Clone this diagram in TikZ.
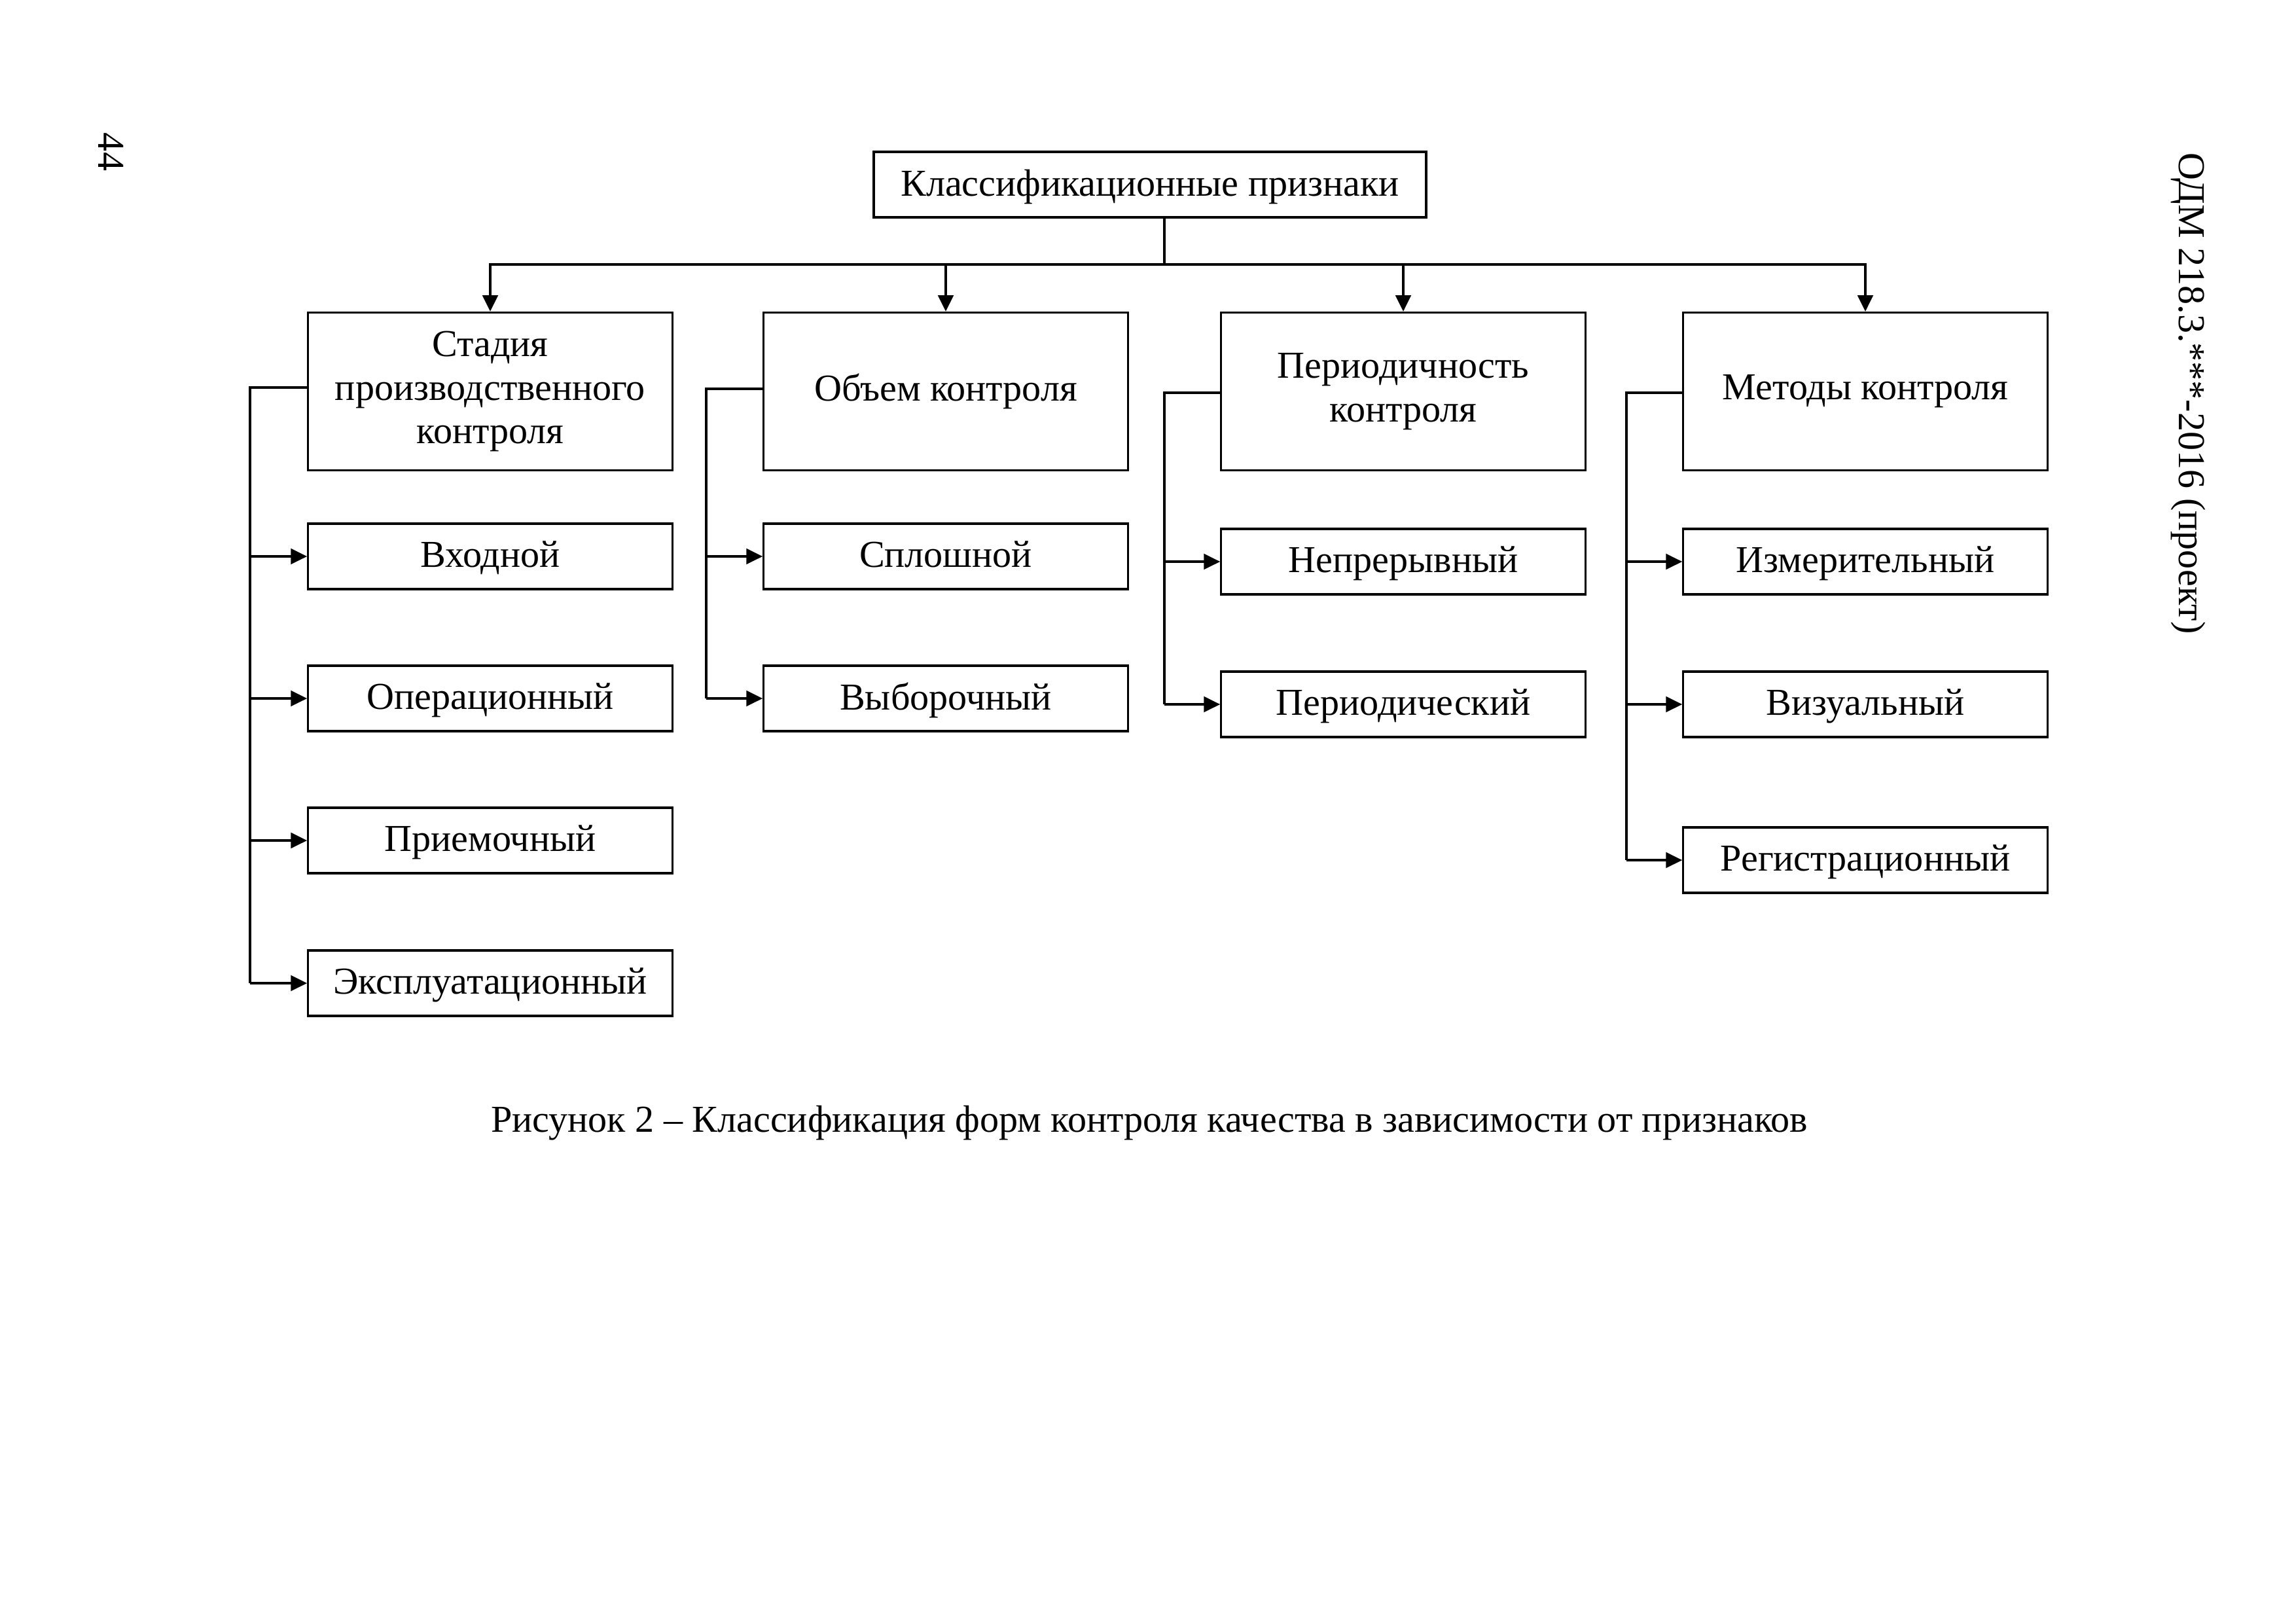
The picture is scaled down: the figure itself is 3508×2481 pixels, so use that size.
\documentclass[tikz,border=0pt]{standalone}
\usepackage{fontspec}
\setmainfont{Liberation Serif}
\usetikzlibrary{arrows.meta}
\begin{document}
\begin{tikzpicture}[x=0.08466mm,y=-0.08466mm,
  every node/.style={font=\fontsize{14pt}{16.1pt}\selectfont},
  bigbox/.style={draw,line width=0.8pt,inner sep=0pt,minimum width=47.1mm,minimum height=20.4mm,align=center},
  smallbox/.style={draw,line width=0.8pt,inner sep=0pt,minimum width=47.1mm,minimum height=8.47mm,text depth=0.5mm},
  topbox/.style={draw,line width=0.8pt,inner sep=0pt,minimum width=71.45mm,minimum height=8.47mm,text depth=0.5mm},
  conn/.style={line width=0.8pt},
  arr/.style={line width=0.8pt,-{Triangle[length=2.1mm,width=2mm]}}]
\useasboundingbox (0,0) rectangle (3508,2481);
% page furniture
\node[rotate=-90] (pg) at (170,232) {44};
\node[rotate=-90] (hdr) at (3343,601) {ОДМ 218.3.***-2016 (проект)};
% top
\node[topbox] (top) at (1757,282) {Классификационные признаки};
% level 1
\node[bigbox] (b1) at (749,598) {Стадия\\производственного\\контроля};
\node[bigbox] (b2) at (1445,598) {Объем контроля};
\node[bigbox] (b3) at (2144,598) {Периодичность\\контроля};
\node[bigbox] (b4) at (2850,598) {Методы контроля};
% level 2
\node[smallbox] (s11) at (749,850) {Входной};
\node[smallbox] (s12) at (749,1067) {Операционный};
\node[smallbox] (s13) at (749,1284) {Приемочный};
\node[smallbox] (s14) at (749,1502) {Эксплуатационный};
\node[smallbox] (s21) at (1445,850) {Сплошной};
\node[smallbox] (s22) at (1445,1067) {Выборочный};
\node[smallbox] (s31) at (2144,858) {Непрерывный};
\node[smallbox] (s32) at (2144,1076) {Периодический};
\node[smallbox] (s41) at (2850,858) {Измерительный};
\node[smallbox] (s42) at (2850,1076) {Визуальный};
\node[smallbox] (s43) at (2850,1314) {Регистрационный};
% caption
\node (cap) at (1756,1716) {Рисунок 2 – Классификация форм контроля качества в зависимости от признаков};
% top connectors
\coordinate (j) at (1779,404);
\draw[conn] (top.south -| j) -- (j);
\draw[arr] (j) -| (b1.north);
\draw[arr] (j) -| (b2.north);
\draw[arr] (j) -| (b3.north);
\draw[arr] (j) -| (b4.north);
% side connectors
\coordinate (v1) at (382,592);
\coordinate (v2) at (1079,594);
\coordinate (v3) at (1779,600);
\coordinate (v4) at (2485,600);
\draw[conn] (b1.west |- v1) -- (v1) -- (v1 |- s14.west);
\draw[conn] (b2.west |- v2) -- (v2) -- (v2 |- s22.west);
\draw[conn] (b3.west |- v3) -- (v3) -- (v3 |- s32.west);
\draw[conn] (b4.west |- v4) -- (v4) -- (v4 |- s43.west);
\foreach \s in {s11,s12,s13,s14} \draw[arr] (v1 |- \s.west) -- (\s.west);
\foreach \s in {s21,s22} \draw[arr] (v2 |- \s.west) -- (\s.west);
\foreach \s in {s31,s32} \draw[arr] (v3 |- \s.west) -- (\s.west);
\foreach \s in {s41,s42,s43} \draw[arr] (v4 |- \s.west) -- (\s.west);
\end{tikzpicture}
\end{document}
